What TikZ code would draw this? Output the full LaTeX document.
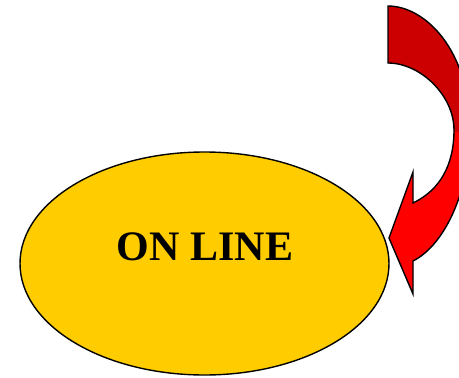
\documentclass[tikz,border=0pt]{standalone}
\usepackage{fontspec}
\setmainfont{Liberation Serif}
\usetikzlibrary{shapes.geometric}
\definecolor{gold}{HTML}{FFCC00}
\definecolor{darkred}{HTML}{CC0000}
\definecolor{brightred}{HTML}{FF0000}
\tikzset{
  oval/.style={ellipse, draw=black, line width=1.4pt, fill=gold, inner sep=0pt},
  outline/.style={draw=black, line width=1.4pt, line join=miter},
  lbl/.style={font=\fontsize{42}{46}\selectfont\bfseries, inner sep=0pt}
}
\begin{document}
\begin{tikzpicture}[x=1pt,y=-1pt]
\useasboundingbox (0,0) rectangle (459,378);
\clip (0,0) rectangle (459,378);
\node[oval, minimum width=369pt, minimum height=223pt] (ov) at (204.5,263.5) {};
\node[lbl, anchor=base] (txt) at (205,260) {ON LINE};
\def\arrowpath{(388,6) .. controls (425,6) and (470,50) .. (470,130)
  .. controls (470,190) and (445,245) .. (413,261)
  -- (413,294) -- (389,238) -- (413,172) -- (413,203)
  .. controls (440,190) and (454,165) .. (454,130)
  .. controls (454,95) and (420,63) .. (388,63) -- cycle}
\fill[brightred] \arrowpath;
\begin{scope}
  \clip (380,0) rectangle (470,131);
  \fill[darkred] \arrowpath;
\end{scope}
\draw[outline] \arrowpath;
\end{tikzpicture}
\end{document}
